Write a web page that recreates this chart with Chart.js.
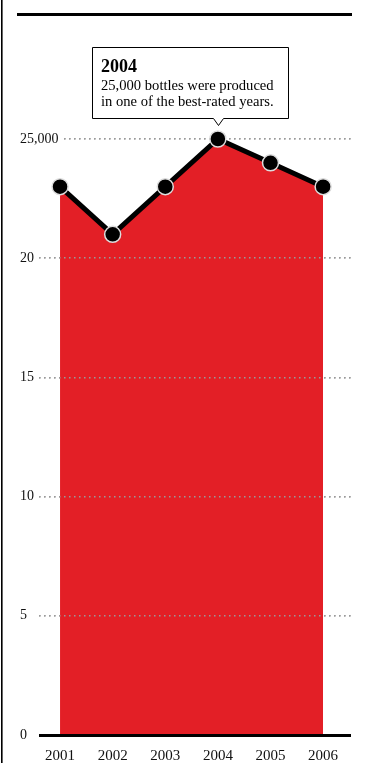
<!DOCTYPE html>
<html>
<head>
<meta charset="utf-8">
<script src="https://cdn.jsdelivr.net/npm/chart.js@4/dist/chart.umd.min.js"></script>
<style>
  html, body { margin: 0; padding: 0; background: #fff; }
  #wrap { position: relative; width: 378px; height: 770px; }
</style>
</head>
<body>
<div id="wrap"><canvas id="chart"></canvas></div>
<script>
// bottles produced, in thousands
var years = [2001, 2002, 2003, 2004, 2005, 2006];
var bottles = [23, 21, 23, 25, 24, 23];
var yTicks = [0, 5, 10, 15, 20, 25];
var noteYear = 2004;
var noteTitle = "2004";
var noteLines = ["25,000 bottles were produced", "in one of the best-rated years."];

var serif = "'Liberation Serif', 'DejaVu Serif', serif";

var points = [];
for (var i in years) {
  points.push({x: years[i], y: bottles[i]});
}

// rules, callout, and the dotted grid put back on top of the red area
var decor = {
  id: 'decor',
  beforeDraw: function(chart) {
    var c = chart.ctx;
    c.save();
    c.fillStyle = '#000';
    c.fillRect(17, 13, 335, 3);
    c.fillRect(1, 0, 1.6, 763);
    c.restore();
  },
  afterDatasetDraw: function(chart, args) {
    if (args.index === 1) {
      chart.scales.y.drawGrid(chart.chartArea);
    }
  },
  afterDraw: function(chart) {
    var c = chart.ctx;
    var meta = chart.getDatasetMeta(0);
    var pt = meta.data[years.indexOf(noteYear)];
    var px = Math.round(pt.x) + 0.5;
    var bx = 92.5, by = 47.5, bw = 196, bh = 71;
    c.save();
    c.fillStyle = '#fff';
    c.strokeStyle = '#000';
    c.lineWidth = 1;
    c.beginPath();
    c.moveTo(bx, by);
    c.lineTo(bx + bw, by);
    c.lineTo(bx + bw, by + bh);
    c.lineTo(px + 5, by + bh);
    c.lineTo(px, by + bh + 7);
    c.lineTo(px - 5, by + bh);
    c.lineTo(bx, by + bh);
    c.closePath();
    c.fill();
    c.stroke();
    c.fillStyle = '#000';
    c.textAlign = 'left';
    c.textBaseline = 'alphabetic';
    c.font = "bold 18px " + serif;
    c.fillText(noteTitle, 101, 72);
    c.font = "14.6px " + serif;
    c.fillText(noteLines[0], 101, 90);
    c.fillText(noteLines[1], 101, 106);
    c.restore();
  }
};

var ctx = document.getElementById('chart');
var chart = new Chart(ctx, {
  type: 'line',
  data: {
    datasets: [{
      // line and points
      data: points,
      order: 0,
      borderColor: '#000',
      borderWidth: 5,
      fill: false,
      tension: 0,
      pointRadius: 8,
      pointHoverRadius: 8,
      pointBackgroundColor: '#000',
      pointBorderColor: '#ddd',
      pointBorderWidth: 1.5,
      clip: false
    }, {
      // red area
      data: points,
      order: 1,
      borderWidth: 0,
      borderColor: 'rgba(0,0,0,0)',
      backgroundColor: '#e31f26',
      fill: 'origin',
      tension: 0,
      pointRadius: 0
    }]
  },
  options: {
    responsive: true,
    maintainAspectRatio: false,
    animation: false,
    events: [],
    layout: { padding: { left: 39, right: 27, top: 139, bottom: 6 } },
    plugins: { legend: { display: false }, tooltip: { enabled: false } },
    scales: {
      x: {
        type: 'linear',
        min: 2000.6,
        max: 2006.53,
        grid: { display: false, drawTicks: false },
        border: { display: false },
        afterBuildTicks: function(axis) {
          axis.ticks = years.map(function(v) { return {value: v}; });
        },
        afterFit: function(axis) { axis.height = 29; },
        ticks: {
          padding: 12,
          color: '#111',
          font: { family: serif, size: 15 },
          callback: function(v) { return String(v); }
        }
      },
      y: {
        min: 0,
        max: 25,
        afterBuildTicks: function(axis) {
          axis.ticks = yTicks.map(function(v) { return {value: v}; });
        },
        afterFit: function(axis) { axis.width = 0; },
        grid: {
          drawTicks: false,
          color: function(c) { return c.tick && c.tick.value === 0 ? '#000' : '#9a9a9a'; },
          lineWidth: function(c) { return c.tick && c.tick.value === 0 ? 3 : 1.5; }
        },
        border: {
          display: false,
          dash: function(c) { return c.tick && c.tick.value === 0 ? [] : [1.5, 3.5]; }
        },
        ticks: {
          z: 1,
          mirror: true,
          padding: -19,
          color: '#111',
          font: { family: serif, size: 14 },
          showLabelBackdrop: true,
          backdropColor: '#fff',
          backdropPadding: { left: 1, right: 3, top: 0, bottom: 0 },
          callback: function(v) { return v === 25 ? '25,000' : String(v); }
        }
      }
    }
  },
  plugins: [decor]
});
</script>
</body>
</html>
